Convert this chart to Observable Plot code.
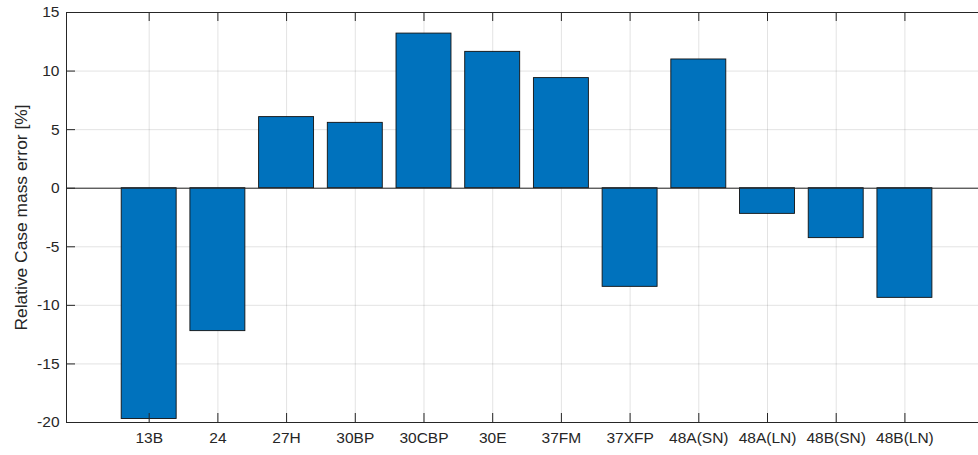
<!DOCTYPE html>
<html>
<head>
<meta charset="utf-8">
<script src="https://cdn.jsdelivr.net/npm/d3@7"></script>
<script src="https://cdn.jsdelivr.net/npm/@observablehq/plot@0.6"></script>
<style>
  html, body { margin: 0; padding: 0; background: #fff; overflow: hidden; }
  #chart svg { display: block; font-family: "Liberation Sans", Arial, sans-serif; }
</style>
</head>
<body>
<div id="chart"></div>
<script>
const categories = ["13B", "24", "27H", "30BP", "30CBP", "30E", "37FM", "37XFP", "48A(SN)", "48A(LN)", "48B(SN)", "48B(LN)"];
const errors = [-19.7, -12.2, 6.07, 5.58, 13.2, 11.64, 9.4, -8.42, 10.99, -2.19, -4.26, -9.36];
const yTicks = [-20, -15, -10, -5, 0, 5, 10, 15];
const yLabel = "Relative Case mass error [%]";

const data = categories.map((c, i) => ({cat: c, value: errors[i]}));

const W = 978, H = 455;
const mL = 66, mR = 0, mT = 12, mB = 33;
const frameW = W - mL - mR, frameH = H - mT - mB;
const tickLen = 9;
const axisColor = "#262626";

const chart = Plot.plot({
  width: W,
  height: H,
  marginLeft: mL,
  marginRight: mR,
  marginTop: mT,
  marginBottom: mB,
  style: {fontFamily: "'Liberation Sans', Arial, sans-serif", fontSize: "15.5px", color: axisColor, background: "#fff"},
  x: {type: "band", domain: categories, range: [121.2, 931.9], paddingInner: 0.2, paddingOuter: 0, align: 0, round: false},
  y: {domain: [-20, 15], ticks: yTicks},
  marks: [
    // grid
    Plot.ruleX(categories, {x: d => d, stroke: axisColor, strokeOpacity: 0.13}),
    Plot.ruleY(yTicks, {y: d => d, stroke: axisColor, strokeOpacity: 0.13}),
    // bars
    Plot.barY(data, {x: "cat", y: "value", fill: "#0072BD", stroke: "#111", strokeWidth: 0.9}),
    // baseline
    Plot.ruleY([0], {stroke: axisColor, strokeWidth: 1}),
    // inward ticks
    Plot.ruleX(categories, {x: d => d, insetTop: frameH - tickLen, stroke: axisColor}),
    Plot.ruleX(categories, {x: d => d, insetBottom: frameH - tickLen, stroke: axisColor}),
    Plot.ruleY(yTicks, {y: d => d, insetRight: frameW - tickLen, stroke: axisColor}),
    // frame lines
    Plot.frame({anchor: "left", stroke: axisColor}),
    Plot.frame({anchor: "top", stroke: axisColor}),
    Plot.frame({anchor: "bottom", stroke: axisColor}),
    // axes
    Plot.axisX({tickSize: 0, tickPadding: 9, label: null, fontSize: 15.5}),
    Plot.axisY({ticks: yTicks, tickFormat: d => String(d), tickSize: 0, tickPadding: 7, fontSize: 15.5, label: null}),
    Plot.text([yLabel], {text: d => d, frameAnchor: "left", rotate: -90, dx: -45, lineAnchor: "middle", textAnchor: "middle", fontSize: 17.4, fill: axisColor})
  ]
});
document.getElementById("chart").appendChild(chart);
</script>
</body>
</html>
